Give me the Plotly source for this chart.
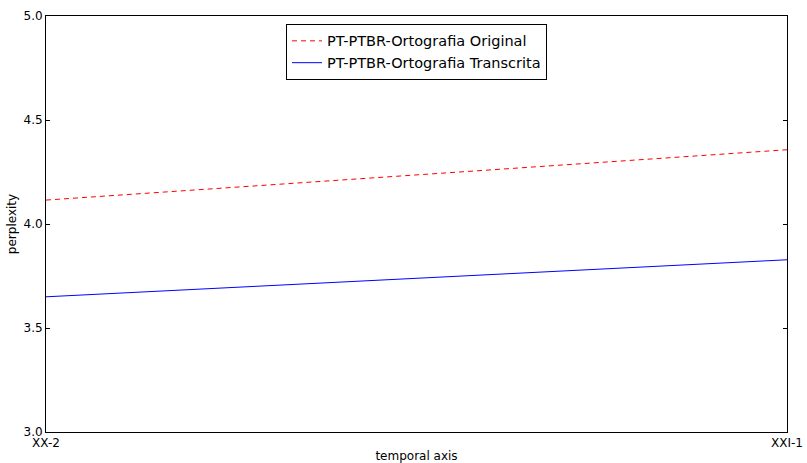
import plotly.graph_objects as go

categories = ["XX-2", "XXI-1"]
original = [4.115, 4.357]
transcrita = [3.65, 3.828]
y_ticks = [3.0, 3.5, 4.0, 4.5, 5.0]
y_tick_text = ["3.0", "3.5", "4.0", "4.5", "5.0"]

fig = go.Figure()
fig.add_trace(go.Scatter(x=[0, 1], y=original, mode="lines",
                         name="PT-PTBR-Ortografia Original",
                         line=dict(color="#ff0000", width=1, dash="5px,4px")))
fig.add_trace(go.Scatter(x=[0, 1], y=transcrita, mode="lines",
                         name="PT-PTBR-Ortografia Transcrita",
                         line=dict(color="#0000ff", width=1)))

axis_common = dict(showline=True, linecolor="black", linewidth=1, mirror="ticks",
                   ticks="inside", ticklen=4, tickcolor="black", showgrid=False,
                   zeroline=False, automargin=False,
                   tickfont=dict(family="DejaVu Sans", size=12, color="black"))

fig.update_xaxes(range=[0, 1], tickvals=[0, 1], ticktext=categories,
                 title=dict(text="temporal axis", font=dict(family="DejaVu Sans", size=12, color="black"), standoff=2),
                 **axis_common)
fig.update_yaxes(range=[3.0, 5.0], tickvals=y_ticks, ticktext=y_tick_text,
                 title=dict(text="perplexity", font=dict(family="DejaVu Sans", size=12, color="black"), standoff=4),
                 **axis_common)

fig.update_layout(
    width=807, height=463,
    margin=dict(l=46, r=20, t=16, b=31),
    plot_bgcolor="white", paper_bgcolor="white",
    font=dict(family="DejaVu Sans", size=12, color="black"),
    legend=dict(x=0.5, xanchor="center", y=0.981, yanchor="top",
                bordercolor="black", borderwidth=1, bgcolor="white",
                font=dict(family="DejaVu Sans", size=14.5, color="black"),
                tracegroupgap=0),
)

fig.write_html("out.html")
